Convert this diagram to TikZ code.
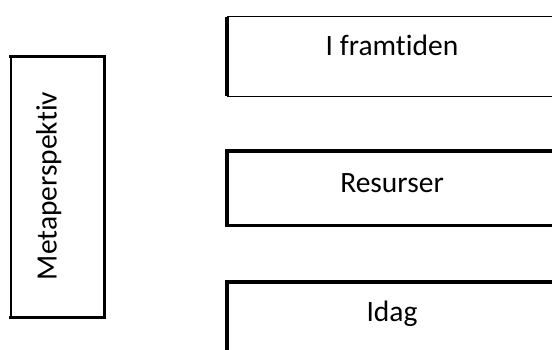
\documentclass[tikz,border=0pt]{standalone}
\usepackage{fontspec}
\setmainfont{Carlito}[Ligatures=NoCommon]
\begin{document}
\begin{tikzpicture}[x=1pt,y=1pt,
  thinedge/.style={draw=black,line width=1.2pt},
  thickedge/.style={draw=black,line width=3.4pt},
  lbl/.style={font=\fontsize{29.5}{35}\selectfont,inner sep=0pt}]
\useasboundingbox (0,0) rectangle (552,349);
\clip (0,0) rectangle (552,349);
\fill[white] (0,0) rectangle (552,349);
% Metaperspektiv box: x 11..104, y(px) 57..317
\node[thinedge,rectangle,minimum width=93pt,minimum height=260pt,inner sep=0pt] (meta) at (57.5,162) {};
\draw[thickedge,line cap=rect] (meta.north west) -- (meta.north east) -- (meta.south east) -- (meta.south west);
\node[lbl,rotate=90,anchor=base] (metat) at (56.5,163) {Metaperspektiv};
% I framtiden: x 227.., y(px) 16..96
\node[thinedge,rectangle,minimum width=360pt,minimum height=80pt,inner sep=0pt,anchor=north west] (fut) at (227,333) {};
\draw[thickedge] ([yshift=-0.6pt]fut.north west) -- ([yshift=1pt]fut.south west);
\node[lbl,anchor=base] (futt) at (392,294) {I framtiden};
% Resurser: y(px) 151..224.5
\node[thinedge,rectangle,minimum width=360pt,minimum height=73pt,inner sep=0pt,anchor=north west] (res) at (227,198) {};
\draw[thickedge,line cap=rect] (res.north east) -- (res.north west) -- (res.south west) -- (res.south east);
\node[lbl,anchor=base] (rest) at (392,156.5) {Resurser};
% Idag: y(px) 282..
\node[thinedge,rectangle,minimum width=360pt,minimum height=100pt,inner sep=0pt,anchor=north west] (ida) at (227,67) {};
\draw[thickedge,line cap=rect] (ida.north east) -- (ida.north west) -- (ida.south west);
\node[lbl,anchor=base] (idat) at (392,27.5) {Idag};
\end{tikzpicture}
\end{document}
